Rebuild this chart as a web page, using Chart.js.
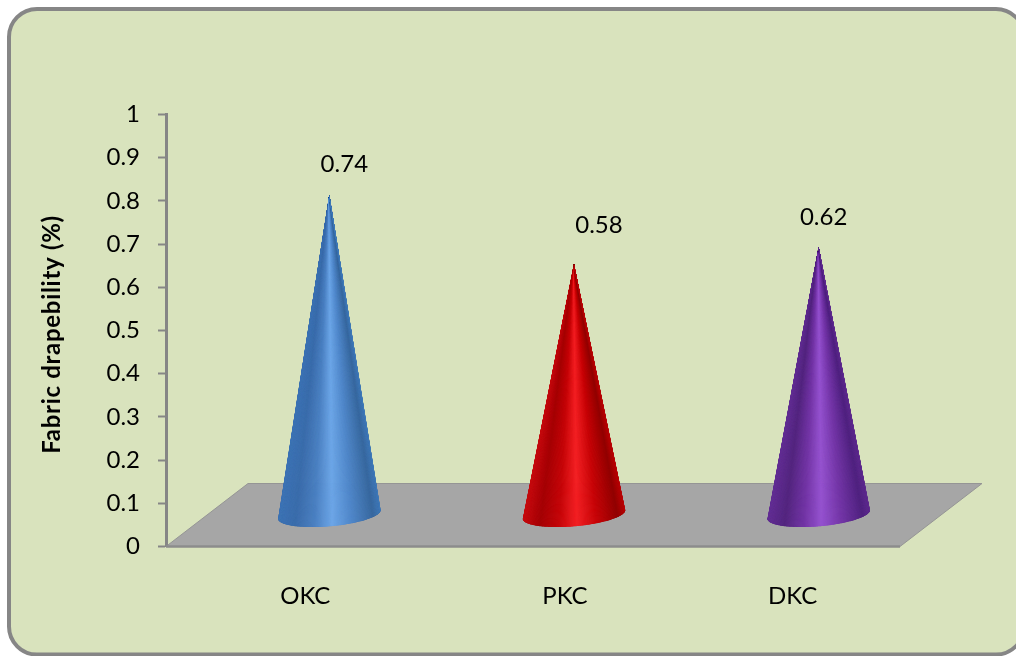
<!DOCTYPE html>
<html>
<head>
<meta charset="utf-8">
<title>Fabric drapebility</title>
<style>
  html, body { margin: 0; padding: 0; background: #ffffff; }
  #wrap { width: 1016px; height: 656px; }
</style>
<script src="https://cdn.jsdelivr.net/npm/chart.js@4"></script>
</head>
<body>
<div id="wrap"><canvas id="chart" width="1016" height="656"></canvas></div>
<script>
const categories = ['OKC', 'PKC', 'DKC'];
const drapeValues = [0.74, 0.58, 0.62];
const valueLabels = ['0.74', '0.58', '0.62'];
const axisTitle = 'Fabric drapebility (%)';

// Shading across each cone, left edge to right edge
const shadeStops = [0, 0.17, 0.36, 0.53, 0.72, 0.93, 1];
const coneShades = [
  ['#3d74b6', '#3a6cab', '#4a80c2', '#6ca6e8', '#4f87ca', '#38689f', '#3f78b8'],
  ['#c80c10', '#a50004', '#c60407', '#f41f23', '#c80306', '#920002', '#b80407'],
  ['#642f96', '#53257f', '#7233a5', '#9552d0', '#7435a8', '#502280', '#5e2b8e']
];

// Hand placement of the text beside its anchor: [dx, dy]
const valueLabelOffsets = [[15, -31], [25, -39], [5, -30]];
const categoryLabelOffsets = [17, 32, 15];

const FONT = 'Lato, Carlito, sans-serif';
const AXIS_GRAY = '#868686';
const depth = { x: 82, y: -63 };

function hexToRgb(h) {
  return [1, 3, 5].map(i => parseInt(h.slice(i, i + 2), 16));
}

function shadeAt(colors, u) {
  let i = 0;
  while (i < shadeStops.length - 2 && u > shadeStops[i + 1]) i++;
  const t = Math.min(1, Math.max(0, (u - shadeStops[i]) / (shadeStops[i + 1] - shadeStops[i])));
  const a = hexToRgb(colors[i]), b = hexToRgb(colors[i + 1]);
  return 'rgb(' + a.map((v, k) => Math.round(v + (b[k] - v) * t)).join(',') + ')';
}

// Rounded card behind the whole chart
const cardPlugin = {
  id: 'card',
  beforeDraw(chart) {
    const c = chart.ctx;
    c.save();
    c.beginPath();
    c.roundRect(9, 9, 1015, 645.5, 28);
    c.fillStyle = '#d9e3bd';
    c.fill();
    c.lineWidth = 4;
    c.strokeStyle = AXIS_GRAY;
    c.stroke();
    c.restore();
  }
};

// Grey floor in oblique projection under the cones
const floorPlugin = {
  id: 'floor',
  beforeDatasetsDraw(chart) {
    const c = chart.ctx, a = chart.chartArea;
    c.save();
    c.beginPath();
    c.moveTo(a.left, a.bottom);
    c.lineTo(a.left + depth.x, a.bottom + depth.y);
    c.lineTo(a.right + depth.x, a.bottom + depth.y);
    c.lineTo(a.right, a.bottom);
    c.closePath();
    c.fillStyle = '#a6a6a6';
    c.fill();
    c.lineWidth = 1;
    c.strokeStyle = '#959595';
    c.stroke();
    c.beginPath();
    c.moveTo(a.left, a.bottom);
    c.lineTo(a.right, a.bottom);
    c.lineWidth = 2.5;
    c.strokeStyle = '#8c8c8c';
    c.stroke();
    c.restore();
  }
};

// Each cone is built from the bar geometry the chart computed for its value
const conePlugin = {
  id: 'cones',
  afterDatasetsDraw(chart) {
    const c = chart.ctx;
    const bars = chart.getDatasetMeta(0).data;
    bars.forEach((bar, idx) => {
      const cx = bar.x + depth.x / 2;
      const baseY = bar.base + depth.y / 2;
      const tipX = cx;
      const tipY = bar.y + depth.y / 2;
      const semiMajor = bar.width / 2;
      const semiMinor = semiMajor * 0.23;
      const tilt = -0.088;
      const pts = [];
      const N = 140;
      for (let i = 0; i <= N; i++) {
        const phi = Math.PI - (Math.PI * i) / N;
        const ex = semiMajor * Math.cos(phi), ey = semiMinor * Math.sin(phi);
        pts.push([
          cx + ex * Math.cos(tilt) - ey * Math.sin(tilt),
          baseY + ex * Math.sin(tilt) + ey * Math.cos(tilt)
        ]);
      }
      c.save();
      c.beginPath();
      c.moveTo(tipX, tipY);
      pts.forEach(p => c.lineTo(p[0], p[1]));
      c.closePath();
      c.clip();
      for (let i = 0; i < N; i++) {
        const mid = (pts[i][0] + pts[i + 1][0]) / 2;
        const u = (mid - (cx - semiMajor)) / (2 * semiMajor);
        const col = shadeAt(coneShades[idx], u);
        c.beginPath();
        c.moveTo(tipX, tipY);
        c.lineTo(pts[i][0], pts[i][1]);
        c.lineTo(pts[i + 1][0], pts[i + 1][1]);
        c.closePath();
        c.fillStyle = col;
        c.strokeStyle = col;
        c.lineWidth = 0.8;
        c.fill();
        c.stroke();
      }
      c.restore();
    });
  }
};

// Value labels, category labels and the rotated axis title
const textPlugin = {
  id: 'chartText',
  afterDraw(chart) {
    const c = chart.ctx, x = chart.scales.x, a = chart.chartArea;
    const bars = chart.getDatasetMeta(0).data;
    c.save();
    c.fillStyle = '#000000';
    c.textAlign = 'center';
    c.textBaseline = 'middle';
    c.font = '24px ' + FONT;
    bars.forEach((bar, i) => {
      const o = valueLabelOffsets[i];
      c.fillText(valueLabels[i], bar.x + depth.x / 2 + o[0], bar.y + depth.y / 2 + o[1]);
    });
    categories.forEach((name, i) => {
      c.fillText(name, x.getPixelForTick(i) + categoryLabelOffsets[i], a.bottom + 50);
    });
    c.translate(52, 334.5);
    c.rotate(-Math.PI / 2);
    c.font = 'bold 24px ' + FONT;
    c.letterSpacing = '0.7px';
    c.fillText(axisTitle, 0, 0);
    c.restore();
  }
};

new Chart(document.getElementById('chart'), {
  type: 'bar',
  data: {
    labels: categories,
    datasets: [{
      data: drapeValues,
      backgroundColor: 'rgba(0,0,0,0)',
      borderWidth: 0,
      barPercentage: 0.42,
      categoryPercentage: 1
    }]
  },
  plugins: [cardPlugin, floorPlugin, conePlugin, textPlugin],
  options: {
    responsive: false,
    animation: false,
    layout: { padding: { top: 114.5, right: 116, bottom: 0, left: 0 } },
    plugins: { legend: { display: false }, tooltip: { enabled: false } },
    scales: {
      x: {
        grid: { display: false },
        border: { display: false },
        ticks: { display: false },
        afterFit(scale) { scale.height = 109.5; }
      },
      y: {
        min: 0,
        max: 1,
        grid: {
          drawOnChartArea: false,
          drawTicks: true,
          tickLength: 8,
          tickColor: AXIS_GRAY,
          tickWidth: 2
        },
        border: { color: AXIS_GRAY, width: 3 },
        ticks: {
          stepSize: 0.1,
          padding: 18,
          color: '#000000',
          font: { family: FONT, size: 24 },
          callback: v => String(Math.round(v * 10) / 10)
        },
        afterFit(scale) { scale.width = 166; }
      }
    }
  }
});
</script>
</body>
</html>
